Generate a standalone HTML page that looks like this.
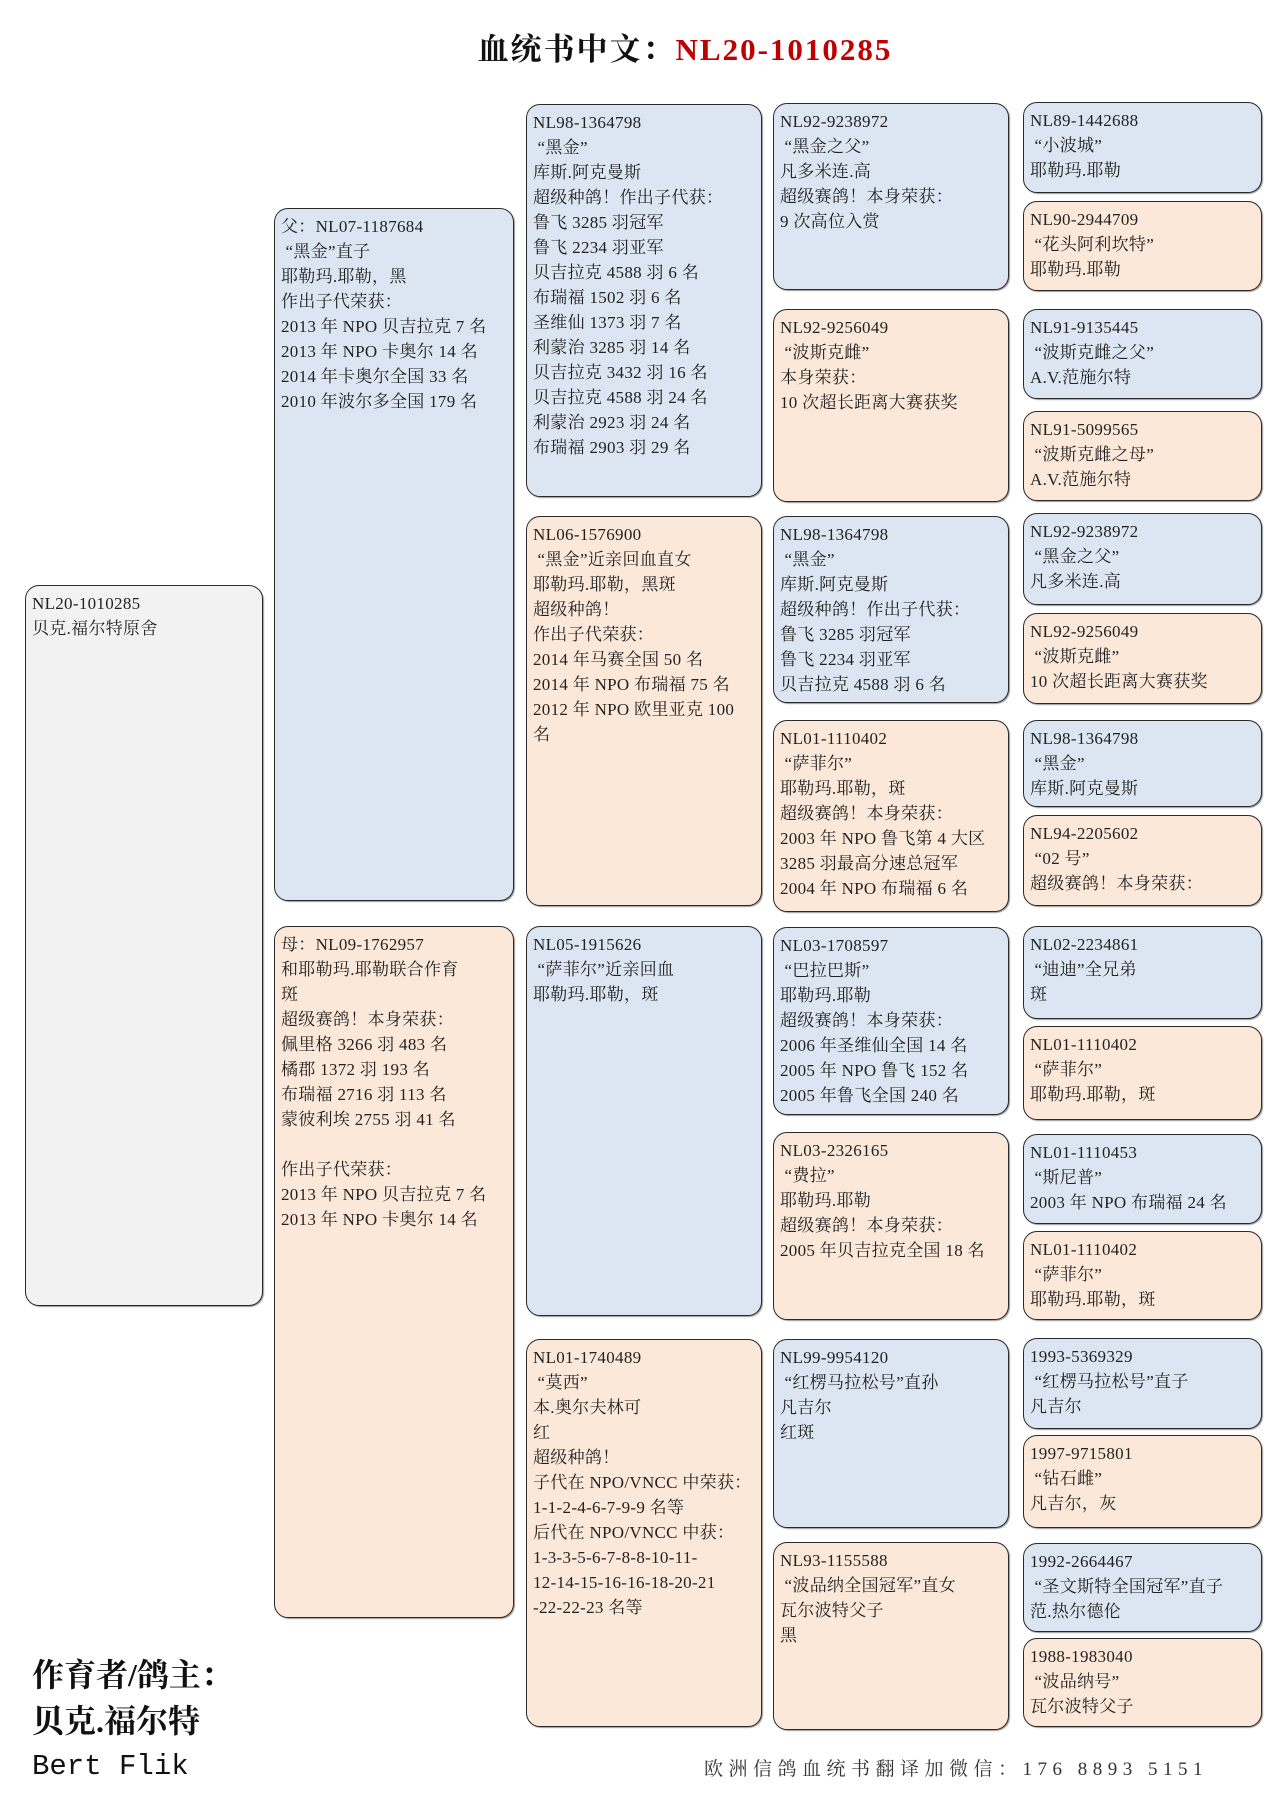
<!DOCTYPE html>
<html><head><meta charset="utf-8">
<style>
body{margin:0;width:1285px;height:1817px;background:#fff;position:relative;overflow:hidden;font-family:"Liberation Serif","Noto Serif CJK SC",serif;}
.b{position:absolute;box-sizing:border-box;border:1.6px solid #2a2a2a;border-radius:14px;padding:5px 6px;font-size:17px;line-height:25px;color:#222;white-space:pre;overflow:hidden;box-shadow:1px 1px 1px #999;letter-spacing:0.3px;}
.bl{background:#dce6f2;}
.pk{background:#fce8d9;}
.gr{background:#f2f2f2;}
.c3{left:526px;width:236px;}
.c4{left:773px;width:236px;}
.c5{left:1023px;width:239px;}
</style></head><body>
<div style="position:absolute;left:85px;width:1200px;top:30px;text-align:center;font-size:31px;line-height:40px;font-weight:bold;color:#111;letter-spacing:2px">血统书中文：<span style="color:#c00000">NL20-1010285</span></div>

<div class="b gr" style="left:25px;top:585px;width:238px;height:721px;">NL20-1010285
贝克.福尔特原舍</div>

<div class="b bl" style="left:274px;top:208px;width:240px;height:693px;">父：NL07-1187684
 “黑金”直子
耶勒玛.耶勒，黑
作出子代荣获：
2013 年 NPO 贝吉拉克 7 名
2013 年 NPO 卡奥尔 14 名
2014 年卡奥尔全国 33 名
2010 年波尔多全国 179 名</div>
<div class="b pk" style="left:274px;top:926px;width:240px;height:692px;">母：NL09-1762957
和耶勒玛.耶勒联合作育
斑
超级赛鸽！本身荣获：
佩里格 3266 羽 483 名
橘郡 1372 羽 193 名
布瑞福 2716 羽 113 名
蒙彼利埃 2755 羽 41 名

作出子代荣获：
2013 年 NPO 贝吉拉克 7 名
2013 年 NPO 卡奥尔 14 名</div>

<div class="b bl c3" style="top:104px;height:393px;">NL98-1364798
 “黑金”
库斯.阿克曼斯
超级种鸽！作出子代获：
鲁飞 3285 羽冠军
鲁飞 2234 羽亚军
贝吉拉克 4588 羽 6 名
布瑞福 1502 羽 6 名
圣维仙 1373 羽 7 名
利蒙治 3285 羽 14 名
贝吉拉克 3432 羽 16 名
贝吉拉克 4588 羽 24 名
利蒙治 2923 羽 24 名
布瑞福 2903 羽 29 名</div>
<div class="b pk c3" style="top:516px;height:390px;">NL06-1576900
 “黑金”近亲回血直女
耶勒玛.耶勒，黑斑
超级种鸽！
作出子代荣获：
2014 年马赛全国 50 名
2014 年 NPO 布瑞福 75 名
2012 年 NPO 欧里亚克 100
名</div>
<div class="b bl c3" style="top:926px;height:390px;">NL05-1915626
 “萨菲尔”近亲回血
耶勒玛.耶勒，斑</div>
<div class="b pk c3" style="top:1339px;height:388px;">NL01-1740489
 “莫西”
本.奥尔夫林可
红
超级种鸽！
子代在 NPO/VNCC 中荣获：
1-1-2-4-6-7-9-9 名等
后代在 NPO/VNCC 中获：
1-3-3-5-6-7-8-8-10-11-
12-14-15-16-16-18-20-21
-22-22-23 名等</div>

<div class="b bl c4" style="top:103px;height:187px;">NL92-9238972
 “黑金之父”
凡多米连.高
超级赛鸽！本身荣获：
9 次高位入赏</div>
<div class="b pk c4" style="top:309px;height:193px;">NL92-9256049
 “波斯克雌”
本身荣获：
10 次超长距离大赛获奖</div>
<div class="b bl c4" style="top:516px;height:187px;">NL98-1364798
 “黑金”
库斯.阿克曼斯
超级种鸽！作出子代获：
鲁飞 3285 羽冠军
鲁飞 2234 羽亚军
贝吉拉克 4588 羽 6 名</div>
<div class="b pk c4" style="top:720px;height:192px;">NL01-1110402
 “萨菲尔”
耶勒玛.耶勒，斑
超级赛鸽！本身荣获：
2003 年 NPO 鲁飞第 4 大区
3285 羽最高分速总冠军
2004 年 NPO 布瑞福 6 名</div>
<div class="b bl c4" style="top:927px;height:188px;">NL03-1708597
 “巴拉巴斯”
耶勒玛.耶勒
超级赛鸽！本身荣获：
2006 年圣维仙全国 14 名
2005 年 NPO 鲁飞 152 名
2005 年鲁飞全国 240 名</div>
<div class="b pk c4" style="top:1132px;height:188px;">NL03-2326165
 “费拉”
耶勒玛.耶勒
超级赛鸽！本身荣获：
2005 年贝吉拉克全国 18 名</div>
<div class="b bl c4" style="top:1339px;height:189px;">NL99-9954120
 “红楞马拉松号”直孙
凡吉尔
红斑</div>
<div class="b pk c4" style="top:1542px;height:188px;">NL93-1155588
 “波品纳全国冠军”直女
瓦尔波特父子
黑</div>

<div class="b bl c5" style="top:102px;height:91px;">NL89-1442688
 “小波城”
耶勒玛.耶勒</div>
<div class="b pk c5" style="top:201px;height:90px;">NL90-2944709
 “花头阿利坎特”
耶勒玛.耶勒</div>
<div class="b bl c5" style="top:309px;height:90px;">NL91-9135445
 “波斯克雌之父”
A.V.范施尔特</div>
<div class="b pk c5" style="top:411px;height:90px;">NL91-5099565
 “波斯克雌之母”
A.V.范施尔特</div>
<div class="b bl c5" style="top:513px;height:92px;">NL92-9238972
 “黑金之父”
凡多米连.高</div>
<div class="b pk c5" style="top:613px;height:91px;">NL92-9256049
 “波斯克雌”
10 次超长距离大赛获奖</div>
<div class="b bl c5" style="top:720px;height:87px;">NL98-1364798
 “黑金”
库斯.阿克曼斯</div>
<div class="b pk c5" style="top:815px;height:91px;">NL94-2205602
 “02 号”
超级赛鸽！本身荣获：</div>
<div class="b bl c5" style="top:926px;height:93px;">NL02-2234861
 “迪迪”全兄弟
斑</div>
<div class="b pk c5" style="top:1026px;height:94px;">NL01-1110402
 “萨菲尔”
耶勒玛.耶勒，斑</div>
<div class="b bl c5" style="top:1134px;height:90px;">NL01-1110453
 “斯尼普”
2003 年 NPO 布瑞福 24 名</div>
<div class="b pk c5" style="top:1231px;height:89px;">NL01-1110402
 “萨菲尔”
耶勒玛.耶勒，斑</div>
<div class="b bl c5" style="top:1338px;height:91px;">1993-5369329
 “红楞马拉松号”直子
凡吉尔</div>
<div class="b pk c5" style="top:1435px;height:93px;">1997-9715801
 “钻石雌”
凡吉尔，灰</div>
<div class="b bl c5" style="top:1543px;height:89px;">1992-2664467
 “圣文斯特全国冠军”直子
范.热尔德伦</div>
<div class="b pk c5" style="top:1638px;height:89px;">1988-1983040
 “波品纳号”
瓦尔波特父子</div>

<div style="position:absolute;left:32px;top:1652px;font-size:32px;line-height:46px;font-weight:bold;color:#111">作育者/鸽主：<br>贝克.福尔特</div>
<div style="position:absolute;left:32px;top:1747px;font-size:29px;line-height:40px;font-family:'Liberation Mono',monospace;color:#111">Bert Flik</div>
<div style="position:absolute;left:704px;top:1757px;font-size:19px;line-height:26px;letter-spacing:5.5px;color:#333">欧洲信鸽血统书翻译加微信：176 8893 5151</div>
</body></html>
